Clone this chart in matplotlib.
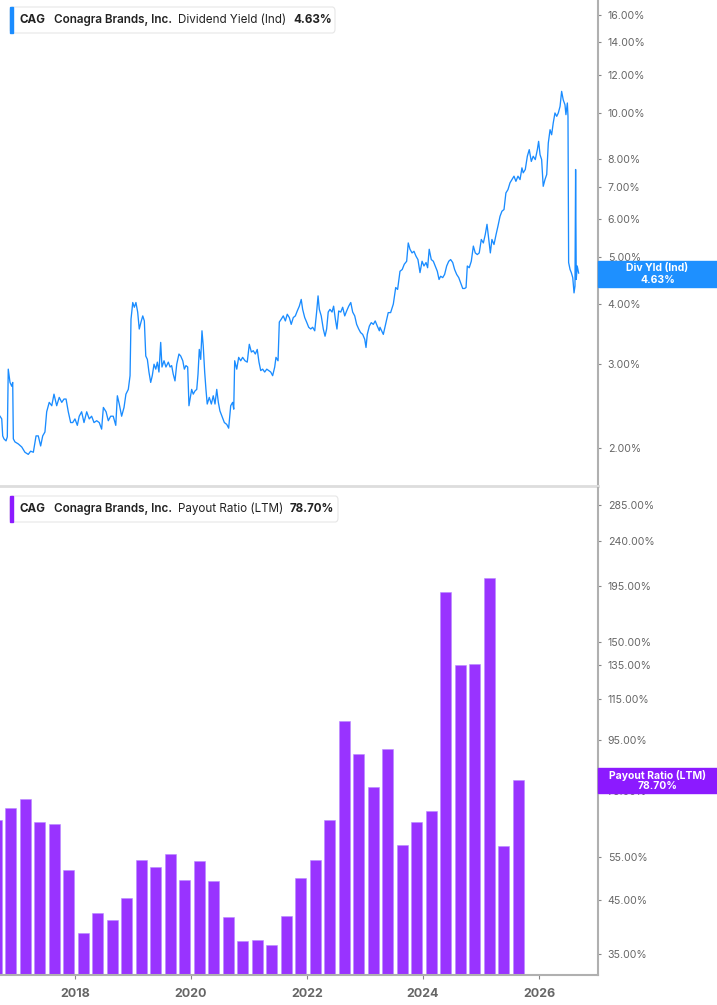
import pandas as pd
import matplotlib
matplotlib.use("Agg")
import matplotlib.pyplot as plt
from matplotlib.patches import Rectangle, FancyBboxPatch
from matplotlib.ticker import FixedLocator, NullLocator, FuncFormatter
import matplotlib.dates as mdates

# Dividend yield (Ind), %; days counted from yld_start
yld_start = "2016-09-15"
yld_day = [
    0, 11, 17, 25, 38, 46, 52, 63, 74, 80, 84, 94, 115, 137, 157, 178, 193, 210, 227, 241,
    256, 269, 283, 294, 310, 326, 340, 357, 373, 389, 403, 416, 430, 445, 458, 472, 487, 499, 514, 529,
    546, 562, 577, 592, 609, 625, 640, 651, 668, 682, 697, 713, 729, 739, 751, 766, 781, 793, 808, 819,
    825, 836, 846, 856, 867, 877, 888, 899, 909, 918, 928, 938, 949, 959, 970, 981, 991, 1001, 1012, 1020,
    1033, 1045, 1060, 1071, 1081, 1091, 1102, 1113, 1127, 1138, 1151, 1161, 1171, 1182, 1190, 1207, 1217, 1228, 1239, 1247,
    1255, 1264, 1272, 1280, 1289, 1297, 1305, 1318, 1331, 1343, 1354, 1365, 1375, 1385, 1400, 1413, 1428, 1440, 1453, 1465,
    1472, 1478, 1491, 1503, 1516, 1528, 1543, 1557, 1570, 1583, 1595, 1608, 1620, 1631, 1642, 1654, 1667, 1680, 1692, 1705,
    1717, 1730, 1738, 1751, 1759, 1771, 1784, 1797, 1809, 1822, 1834, 1847, 1860, 1872, 1885, 1897, 1906, 1919, 1931, 1944,
    1957, 1969, 1982, 1994, 2003, 2011, 2023, 2036, 2047, 2057, 2067, 2078, 2091, 2101, 2112, 2122, 2133, 2146, 2158, 2171,
    2183, 2196, 2209, 2221, 2234, 2246, 2259, 2271, 2284, 2297, 2305, 2313, 2326, 2338, 2351, 2363, 2376, 2389, 2393, 2414,
    2431, 2445, 2460, 2477, 2492, 2504, 2519, 2533, 2546, 2561, 2571, 2582, 2595, 2607, 2620, 2632, 2645, 2658, 2670, 2683,
    2693, 2703, 2716, 2729, 2741, 2754, 2765, 2775, 2788, 2800, 2813, 2826, 2838, 2851, 2863, 2876, 2889, 2901, 2914, 2926,
    2935, 2943, 2955, 2968, 2981, 2993, 3006, 3018, 3031, 3044, 3056, 3067, 3078, 3088, 3098, 3111, 3124, 3136, 3149, 3161,
    3174, 3186, 3199, 3212, 3224, 3237, 3249, 3262, 3275, 3287, 3295, 3308, 3321, 3333, 3346, 3358, 3371, 3384, 3392, 3401,
    3411, 3421, 3432, 3443, 3453, 3464, 3474, 3484, 3495, 3506, 3516, 3527, 3537, 3547, 3558, 3564, 3573, 3577, 3581, 3590,
    3598, 3607, 3615, 3621, 3625, 3629, 3635, 3644,
]
yld_pct = [
    2.33, 2.30, 2.12, 2.09, 2.07, 2.11, 2.92, 2.74, 2.69, 2.74, 2.09, 2.06, 2.04, 2.01, 1.96, 1.94, 1.97, 1.96, 2.12, 2.12,
    2.02, 2.12, 2.16, 2.38, 2.49, 2.45, 2.59, 2.45, 2.55, 2.49, 2.53, 2.53, 2.38, 2.26, 2.26, 2.30, 2.23, 2.33, 2.38, 2.26,
    2.38, 2.30, 2.33, 2.26, 2.28, 2.26, 2.19, 2.43, 2.38, 2.28, 2.33, 2.33, 2.23, 2.57, 2.47, 2.33, 2.43, 2.59, 2.65, 2.83,
    3.71, 4.02, 3.93, 4.02, 3.84, 3.54, 3.66, 3.77, 3.68,
    3.11, 3.06, 2.88, 2.74, 2.83, 2.99, 2.92, 3.02, 2.88, 3.32, 2.95, 3.04, 2.95, 3.02, 2.95, 2.97, 2.85, 2.76, 2.99, 3.14,
    3.11, 3.04, 2.92, 2.97, 2.95, 2.45, 2.65, 2.59, 2.63, 2.65, 2.85, 3.21, 3.06, 3.51, 3.26, 2.88, 2.65, 2.47, 2.55, 2.47,
    2.57, 2.47, 2.65, 2.49, 2.39, 2.32, 2.26, 2.24, 2.20, 2.45, 2.49, 2.41, 3.04, 2.92, 3.09, 3.04, 3.09, 3.04, 3.02, 3.29,
    3.17, 3.19, 3.14, 3.21, 3.02, 2.90, 2.92, 2.88, 2.92, 2.90, 2.88, 2.83, 2.95, 3.09, 3.04, 3.66, 3.71, 3.77, 3.68, 3.80,
    3.74, 3.62, 3.74, 3.77, 3.86, 3.95, 4.08, 3.89, 3.74, 3.66, 3.57, 3.54, 3.57, 3.51, 3.84, 4.15, 3.89, 3.77, 3.54, 3.42,
    3.54, 3.84, 3.89, 3.84, 3.95, 3.71, 3.54, 3.86, 3.84, 3.93, 3.77, 3.86, 3.95, 4.02, 3.84, 3.77, 3.62, 3.54, 3.48, 3.45,
    3.37, 3.24, 3.45, 3.59, 3.65, 3.62, 3.68, 3.59, 3.51, 3.57, 3.45, 3.65, 3.83, 3.83, 3.99, 4.32, 4.28, 4.67, 4.71, 4.83,
    4.90, 5.35, 5.19, 5.10, 5.14, 5.02, 4.94, 4.64, 4.90, 4.79, 4.87, 4.75, 5.19, 4.94, 4.90, 4.79, 4.67, 4.49, 4.56, 4.53,
    4.60, 4.79, 4.90, 4.94, 4.87, 4.71, 4.60, 4.53, 4.42, 4.30, 4.30, 4.32, 4.79, 4.75, 4.90, 5.27, 5.10, 5.06, 5.10, 5.44,
    5.35, 5.57, 5.85, 5.44, 5.10, 5.44, 5.31, 5.57, 5.80, 6.08, 6.23, 6.28, 6.80, 6.91, 7.14, 7.25, 7.37, 7.19, 7.37, 7.25,
    7.67, 7.49, 7.61, 8.11, 8.37, 7.91, 8.11, 7.98, 8.37, 8.71, 8.17, 7.98, 7.02, 7.25, 7.43, 8.64, 9.21, 8.99, 9.51, 9.98,
    9.82, 9.98, 10.30, 11.07, 10.63, 10.38, 9.90, 10.47, 9.82, 4.87, 4.71, 4.64, 4.53, 4.21, 4.35, 7.61, 4.49, 4.79, 4.63,
]

# Payout ratio (LTM), %, one bar per fiscal quarter (Aug 2016 .. Aug 2025)
payout_pct = [65.4, 69.2, 72.2, 64.8, 64.2, 51.8, 38.6, 42.4, 41.0, 45.5, 54.3, 52.5, 55.8, 49.4,
              54.0, 49.2, 41.6, 37.2, 37.4, 36.5, 41.8, 49.9, 54.3, 65.4, 103.9, 89.1, 76.3, 91.2,
              58.2, 64.8, 68.3, 189.8, 135.0, 135.6, 202.7, 58.0, 78.7]
payout_dates = pd.date_range("2016-08-31", periods=len(payout_pct), freq="3ME") - pd.Timedelta(days=7)

yld_ticks = [2, 3, 4, 5, 6, 7, 8, 10, 12, 14, 16]
payout_ticks = [35, 45, 55, 75, 95, 115, 135, 150, 195, 240, 285]

BLUE = "#1a8cff"
PURPLE = "#9933ff"

W, H = 717, 1005
plt.rcParams["font.family"] = ["Inter", "DejaVu Sans"]
fig = plt.figure(figsize=(W / 100, H / 100), dpi=100)


def fx(px):
    return px / W


def fy(py):
    return 1 - py / H


ax1 = fig.add_axes([0, fy(486), fx(598), 486 / H])
ax2 = fig.add_axes([0, fy(975), fx(598), (975 - 488) / H])

start = pd.Timestamp(yld_start)
yld_dates = start + pd.to_timedelta(yld_day, unit="D")
ax1.plot(yld_dates, yld_pct, color=BLUE, lw=0.95)
ax2.bar(payout_dates, payout_pct, width=69, color=PURPLE, edgecolor="#b98aff", linewidth=0.4)

ax1.set_yscale("log")
ax2.set_yscale("log")
ax1.set_ylim(1.667, 17.16)
ax2.set_ylim(31.7, 308)
xmin = start
xmax = pd.Timestamp("2027-01-07")
for ax in (ax1, ax2):
    ax.set_xlim(xmin, xmax)
    ax.yaxis.tick_right()
    ax.yaxis.set_minor_locator(NullLocator())
    ax.yaxis.set_major_formatter(FuncFormatter(lambda v, p: f"{v:.2f}%"))
    ax.tick_params(axis="y", direction="out", length=2, width=0.8, color="#888", pad=5,
                   labelsize=7.6, labelcolor="#666")
    for s in ("left", "top"):
        ax.spines[s].set_visible(False)
    ax.spines["right"].set_color("#b0b0b0")
    ax.spines["right"].set_linewidth(1.5)

ax1.yaxis.set_major_locator(FixedLocator(yld_ticks))
ax2.yaxis.set_major_locator(FixedLocator(payout_ticks))

ax1.spines["bottom"].set_color("#dddddd")
ax1.spines["bottom"].set_linewidth(2)
ax1.set_xticks([])
ax2.spines["bottom"].set_color("#b0b0b0")
ax2.spines["bottom"].set_linewidth(1.5)
ax2.xaxis.set_major_locator(mdates.YearLocator(2))
ax2.xaxis.set_major_formatter(mdates.DateFormatter("%Y"))
ax2.tick_params(axis="x", direction="out", length=3, color="#888", pad=6,
                labelsize=9, labelcolor="#666")
for t in ax2.get_xticklabels():
    t.set_fontweight("bold")


def legend_box(x0, x1, y0, y1, color, parts):
    fig.patches.append(FancyBboxPatch((fx(x0), fy(y1)), fx(x1 - x0), (y1 - y0) / H,
                                      boxstyle="round,pad=0,rounding_size=0.004",
                                      transform=fig.transFigure, facecolor="white",
                                      edgecolor="#e6e6e6", linewidth=0.8, zorder=5))
    fig.patches.append(Rectangle((fx(x0), fy(y1)), fx(3), (y1 - y0) / H,
                                 transform=fig.transFigure, color=color, zorder=6))
    yc = fy((y0 + y1) / 2)
    for xp, txt, wt in parts:
        fig.text(fx(xp), yc, txt, fontsize=8.4, fontweight=wt, color="#222",
                 va="center", ha="left", zorder=7)


legend_box(10, 335, 7, 33, BLUE,
           [(20, "CAG", "bold"), (54, "Conagra Brands, Inc.", "semibold"),
            (178, "Dividend Yield (Ind)", "normal"), (293, "4.63%", "bold")])
legend_box(10, 338, 496, 522, "#8c1aff",
           [(20, "CAG", "bold"), (54, "Conagra Brands, Inc.", "semibold"),
            (178, "Payout Ratio (LTM)", "normal"), (290, "78.70%", "bold")])


def value_tag(y0, y1, color, line1, line2):
    fig.patches.append(Rectangle((fx(598), fy(y1)), fx(W - 598), (y1 - y0) / H,
                                 transform=fig.transFigure, color=color, zorder=6))
    xc = fx((598 + W) / 2)
    fig.text(xc, fy(y0 + 7), line1, fontsize=7.5, fontweight="bold", color="white",
             ha="center", va="center", zorder=7)
    fig.text(xc, fy(y1 - 7), line2, fontsize=7.5, fontweight="bold", color="white",
             ha="center", va="center", zorder=7)


value_tag(261, 287, "#1e90ff", "Div Yld (Ind)", f"{yld_pct[-1]:.2f}%")
value_tag(768, 793, "#8c1aff", "Payout Ratio (LTM)", f"{payout_pct[-1]:.2f}%")

fig.savefig("out.png", dpi=100)
